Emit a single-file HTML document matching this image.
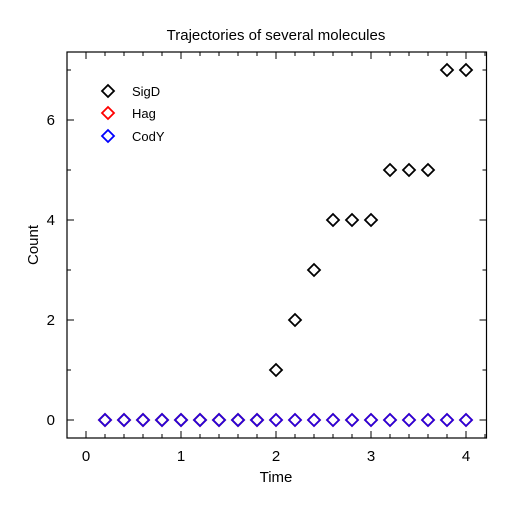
<!DOCTYPE html>
<html><head><meta charset="utf-8">
<style>
html,body{margin:0;padding:0;background:#fff;}
svg{display:block;font-family:"Liberation Sans",Arial,sans-serif;}
</style></head>
<body>
<svg id="chart" width="512" height="512" viewBox="0 0 512 512">
<text x="276" y="40" text-anchor="middle" font-size="15">Trajectories of several molecules</text>
<rect x="67" y="52" width="419.5" height="386" fill="none" stroke="#000" stroke-width="1.2"/>
<g id="ticks"></g>
<g id="marks"></g>
<text x="276" y="482" text-anchor="middle" font-size="15">Time</text>
<text x="38" y="245" text-anchor="middle" font-size="15" transform="rotate(-90 38 245)">Count</text>
<g>
  <path d="M108 85 l6 6 l-6 6 l-6 -6 z" fill="none" stroke="#000" stroke-width="1.8"/>
  <text x="132" y="96" font-size="13">SigD</text>
  <path d="M108 107 l6 6 l-6 6 l-6 -6 z" fill="none" stroke="#f00" stroke-width="1.8"/>
  <text x="132" y="118" font-size="13">Hag</text>
  <path d="M108 130 l6 6 l-6 6 l-6 -6 z" fill="none" stroke="#00f" stroke-width="1.8"/>
  <text x="132" y="141" font-size="13">CodY</text>
</g>
</svg>
<script>
const times = [0.2,0.4,0.6,0.8,1.0,1.2,1.4,1.6,1.8,2.0,2.2,2.4,2.6,2.8,3.0,3.2,3.4,3.6,3.8,4.0];
const sigD = [0,0,0,0,0,0,0,0,0,1,2,3,4,4,4,5,5,5,7,7];
const hag = [0,0,0,0,0,0,0,0,0,0,0,0,0,0,0,0,0,0,0,0];
const codY = [0,0,0,0,0,0,0,0,0,0,0,0,0,0,0,0,0,0,0,0];
const xTickLabels = ["0","1","2","3","4"];
const yTickLabels = ["0","2","4","6"];

const NS = "http://www.w3.org/2000/svg";
const L=67, R=486.5, T=52, B=438;
function xs(v){ return 86 + v*95; }
function ys(v){ return 420 - v*50; }

const tg = document.getElementById("ticks");
function line(x1,y1,x2,y2,name){
  const l=document.createElementNS(NS,"line");
  l.setAttribute("x1",x1);l.setAttribute("y1",y1);l.setAttribute("x2",x2);l.setAttribute("y2",y2);
  l.setAttribute("stroke","#000");l.setAttribute("stroke-width","1");
  
  
  tg.appendChild(l);
}
function text(x,y,s,anchor,name){
  const t=document.createElementNS(NS,"text");
  t.setAttribute("x",x);t.setAttribute("y",y);t.setAttribute("text-anchor",anchor);
  t.setAttribute("font-size","15");t.textContent=s;
  
  
  tg.appendChild(t);
}
for(let i=0;i<=21;i++){
  const v=i*0.2, x=xs(v);
  if(x>R) break;
  const major = i%5===0;
  const len = major?7:4;
  line(x,B,x,B-len,"x-tick");
  line(x,T,x,T+len,"x-tick-top");
}
xTickLabels.forEach((s)=>{ text(xs(+s),B+23,s,"middle","x-tick-label"); });
for(let v=-0.25;v<=7.5;v+=0.5){}
for(let v=0;v<=7;v+=1){
  const y=ys(v), major=v%2===0, len=major?7:4;
  line(L,y,L+len,y,"y-tick");
  line(R,y,R-len,y,"y-tick-right");
}
yTickLabels.forEach((s)=>{ text(L-12,ys(+s)+5,s,"end","y-tick-label"); });

const mg=document.getElementById("marks");
function series(vals,color,name,op){
  const g=document.createElementNS(NS,"g");
  
  
  vals.forEach((v,i)=>{
    const x=xs(times[i]), y=ys(v);
    const p=document.createElementNS(NS,"path");
    p.setAttribute("d",`M${x} ${y-6} l6 6 l-6 6 l-6 -6 z`);
    p.setAttribute("fill","none");p.setAttribute("stroke",color);p.setAttribute("stroke-width","1.8");
    if(op) p.setAttribute("stroke-opacity",op);
    
    
    g.appendChild(p);
  });
  mg.appendChild(g);
}
series(sigD,"#000","sigd");
series(hag,"#f00","hag");
series(codY,"#00f","cody",0.85);
</script>
</body></html>
